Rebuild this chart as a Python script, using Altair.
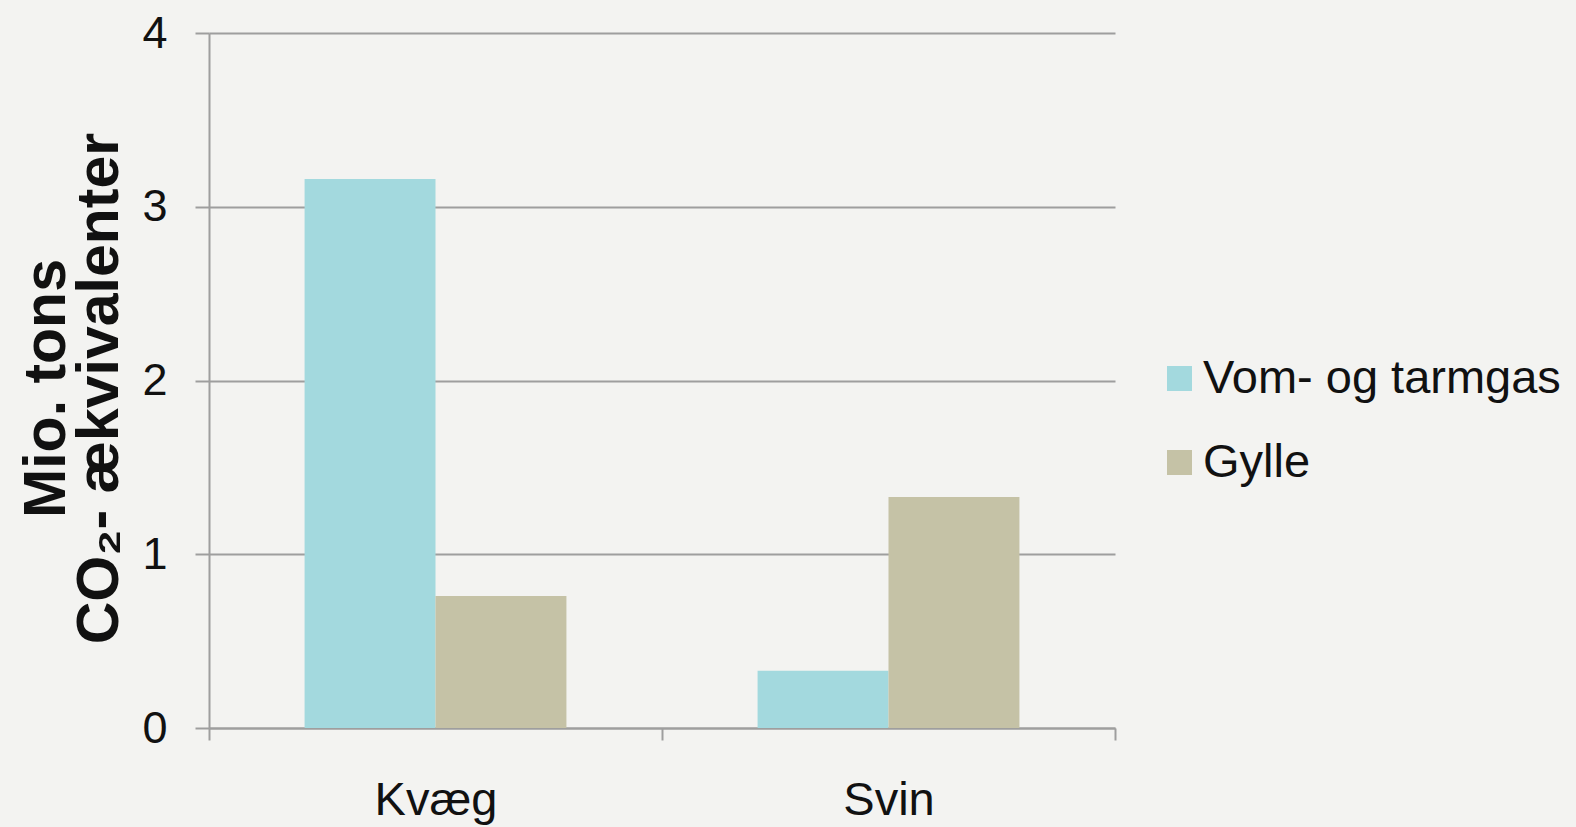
import altair as alt
import pandas as pd

categories = ["Kvæg", "Svin"]
series = ["Vom- og tarmgas", "Gylle"]
vom_values = [3.16, 0.33]
gylle_values = [0.76, 1.33]
y_ticks = [0, 1, 2, 3, 4]
colors = ["#A3D9DE", "#C5C2A6"]

rows = []
for i, c in enumerate(categories):
    rows.append({"Dyr": c, "Kilde": series[0], "Værdi": vom_values[i]})
    rows.append({"Dyr": c, "Kilde": series[1], "Værdi": gylle_values[i]})
df = pd.DataFrame(rows)

SANS = "Liberation Sans, Arial, sans-serif"
GRID = "#9e9e9e"

chart = alt.Chart(df).mark_bar().encode(
    x=alt.X(
        "Dyr:N",
        sort=categories,
        scale=alt.Scale(paddingInner=0, paddingOuter=0),
        axis=alt.Axis(
            title=None,
            labelAngle=0,
            labelFont=SANS,
            labelFontSize=47,
            labelColor="#111111",
            labelPadding=37,
            domainColor=GRID,
            domainWidth=2,
            tickColor=GRID,
            tickWidth=2,
            tickSize=12,
            tickBand="extent",
            grid=False,
        ),
    ),
    xOffset=alt.XOffset(
        "Kilde:N", sort=series, scale=alt.Scale(paddingInner=0, paddingOuter=0.73)
    ),
    y=alt.Y(
        "Værdi:Q",
        scale=alt.Scale(domain=[0, 4], nice=False),
        axis=alt.Axis(
            values=y_ticks,
            format="d",
            title=["Mio. tons", "CO₂- ækvivalenter"],
            titleFont=SANS,
            titleFontSize=59,
            titleFontWeight="bold",
            titleColor="#111111",
            titleLineHeight=53,
            titleAngle=270,
            titleAlign="center",
            titleBaseline="middle",
            titleX=-163,
            titleY=355,
            labelFont=SANS,
            labelFontSize=45,
            labelColor="#111111",
            labelPadding=28,
            domainColor=GRID,
            domainWidth=2,
            tickColor=GRID,
            tickWidth=2,
            tickSize=14,
            grid=True,
            gridColor=GRID,
            gridWidth=2,
        ),
    ),
    color=alt.Color(
        "Kilde:N",
        sort=series,
        scale=alt.Scale(domain=series, range=colors),
        legend=alt.Legend(
            title=None,
            orient="none",
            legendX=947,
            legendY=322,
            symbolType="square",
            symbolSize=625,
            symbolStrokeWidth=0,
            labelFont=SANS,
            labelFontSize=47,
            labelColor="#111111",
            labelOffset=0,
            labelLimit=0,
            rowPadding=36,
        ),
    ),
).properties(
    width=906,
    height=695,
    padding={"left": 209, "top": 33, "right": 461, "bottom": 99},
    autosize="none",
    background="#F3F3F1",
).configure_view(stroke=None)

chart.save("out.html", embed_options={"renderer": "svg", "actions": False})
